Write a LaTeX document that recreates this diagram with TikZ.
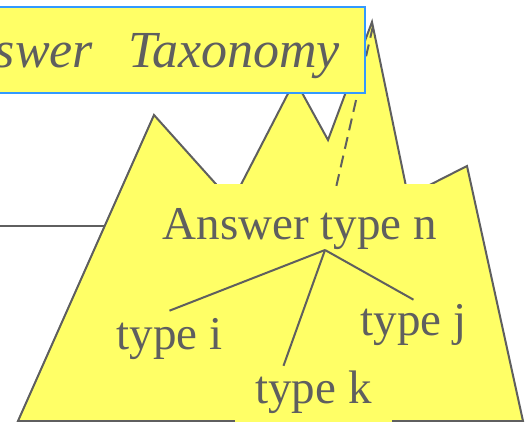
\documentclass[tikz,border=0pt]{standalone}
\usepackage{fontspec}
\setmainfont{Liberation Serif}
\usepackage{xcolor}
\usepackage{tikz}
\definecolor{slide}{HTML}{FFFF66}
\definecolor{ink}{HTML}{5F5F5F}
\definecolor{frame}{HTML}{3399FF}

\begin{document}
\begin{tikzpicture}[
    x=1pt, y=-1pt,
    every node/.style={text=ink, inner sep=0pt, font=\fontsize{47}{50}\selectfont},
    hill/.style={fill=slide, draw=ink, line width=2pt},
    patch/.style={fill=slide, text height=32pt, text depth=10pt},
    branch/.style={draw=ink, line width=2pt},
    heading/.style={fill=slide, draw=frame, line width=2pt,
                    font=\fontsize{52}{56}\selectfont\itshape}
  ]
  \useasboundingbox (0,0) rectangle (525,422);
  \clip (0,0) rectangle (525,422);

  % mountains
  \draw[hill] (18,421) -- (154,115) -- (232,202) -- (295,80) -- (328,140)
    -- (372,22) -- (408,196) -- (467,166) -- (523,421) -- cycle;

  \coordinate (stub) at (0,226);
  \coordinate (rim) at (104,226);
  \draw[branch, line width=2.6pt] (stub) -- (rim);

  \node[patch, anchor=base, inner xsep=2pt, inner ysep=24pt] (ansn) at (300,240) {Answer type n};

  \coordinate (summit) at (373,26);
  \coordinate (drop) at (335,192);
  \draw[branch, dash pattern=on 12pt off 7pt] (summit) -- (drop);

  \node[heading, anchor=base east, inner xsep=25pt, text height=61pt, text depth=25pt]
    (title) at (366,68) {swer\ \ \hspace{9pt}Taxonomy};

  % sub types
  \node[anchor=base] (ti) at (169.5,349) {type i};
  \node[anchor=base] (tj) at (413.5,335) {type j};
  \node[patch, anchor=base, inner xsep=20pt, text depth=22pt] (tk) at (313.5,403) {type k};

  \coordinate (fork) at (325,250);
  \draw[branch] (fork) -- ([yshift=7pt]ti.north);
  \draw[branch] (fork) -- ([xshift=-30pt,yshift=5pt]tk.north);
  \draw[branch] (fork) -- ([yshift=4pt]tj.north);

\end{tikzpicture}
\end{document}
